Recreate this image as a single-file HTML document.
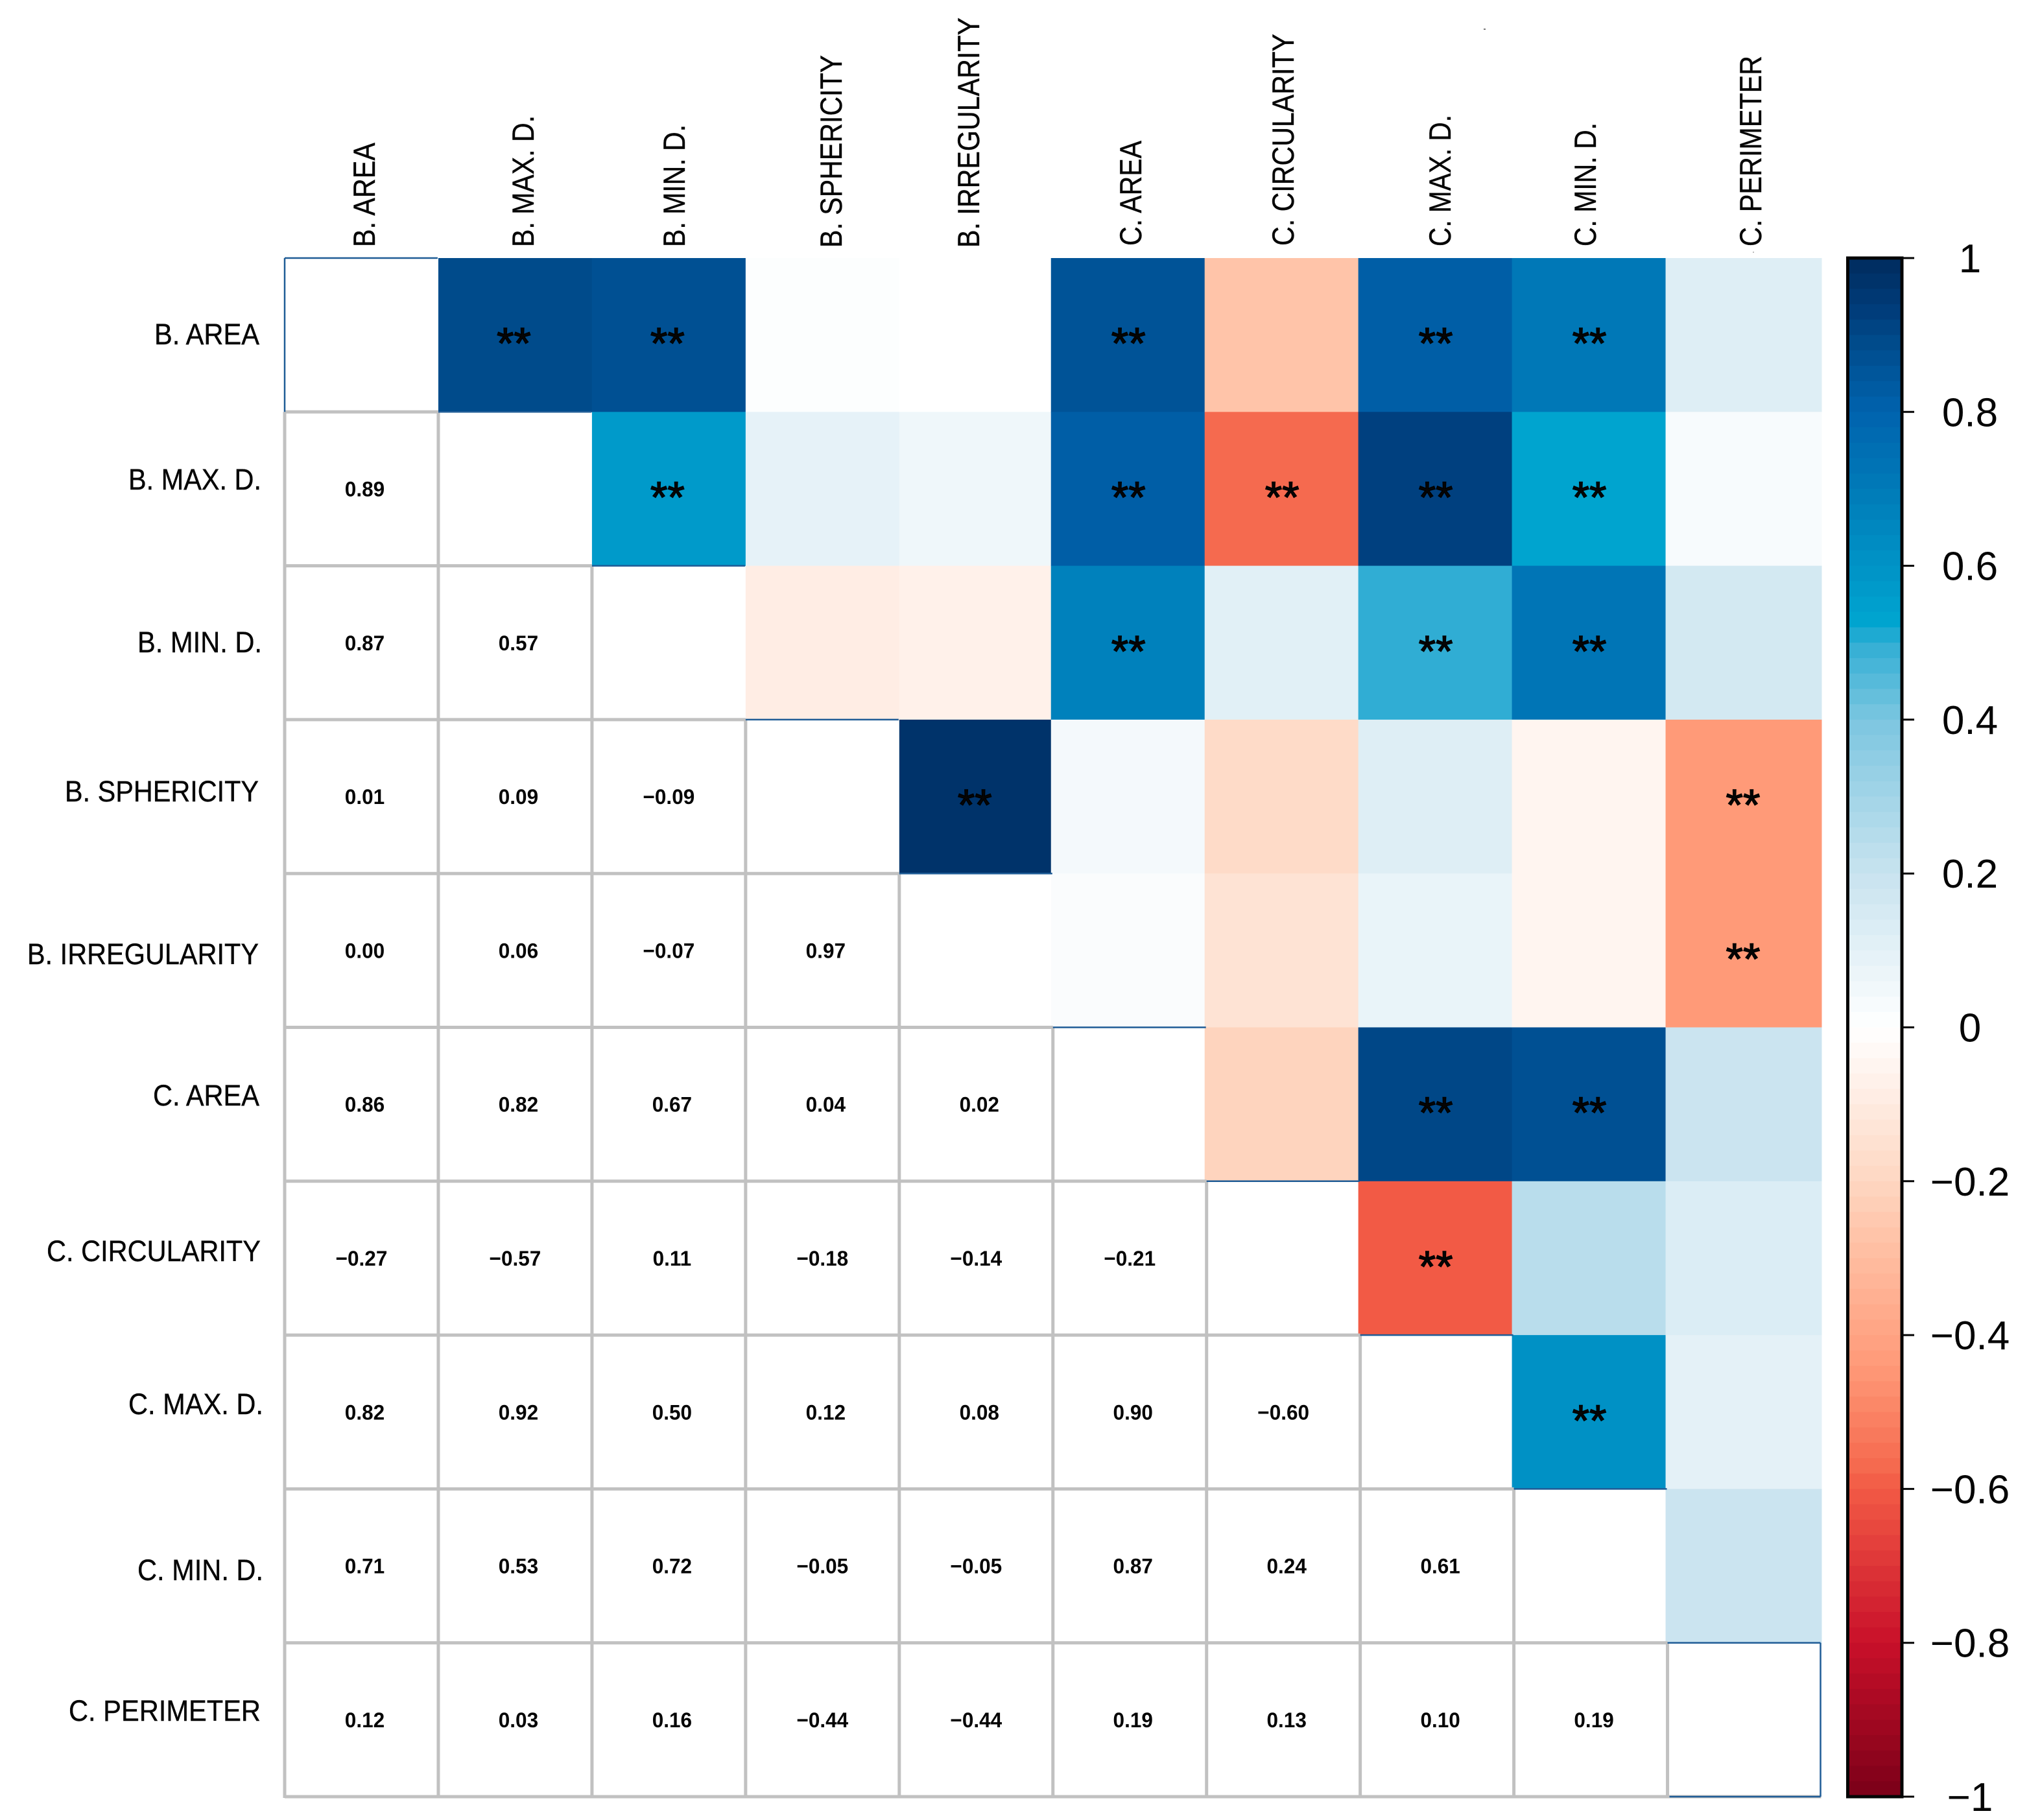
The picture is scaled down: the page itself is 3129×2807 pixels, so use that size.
<!DOCTYPE html>
<html>
<head>
<meta charset="utf-8">
<title>Correlation matrix</title>
<style>
html,body{margin:0;padding:0;background:#fff;}
svg{display:block;}
text{font-family:"Liberation Sans",Arial,sans-serif;fill:#050505;}
.lab text{stroke:#050505;stroke-width:0.4;}
</style>
</head>
<body>
<svg id="chart" xmlns="http://www.w3.org/2000/svg" width="3129" height="2807" viewBox="0 0 3129 2807">
  <rect x="0" y="0" width="3129" height="2807" fill="#ffffff"/>
  <g id="cells"></g>
  <g id="grid"></g>
  <g id="stars"></g>
  <g id="values"></g>

  <g class="lab" font-size="45">
    <text x="238" y="531" textLength="162" lengthAdjust="spacingAndGlyphs">B. AREA</text>
    <text x="198" y="755" textLength="205" lengthAdjust="spacingAndGlyphs">B. MAX. D.</text>
    <text x="212" y="1006" textLength="192" lengthAdjust="spacingAndGlyphs">B. MIN. D.</text>
    <text x="100" y="1236" textLength="299" lengthAdjust="spacingAndGlyphs">B. SPHERICITY</text>
    <text x="42" y="1487" textLength="357" lengthAdjust="spacingAndGlyphs">B. IRREGULARITY</text>
    <text x="236" y="1705" textLength="164" lengthAdjust="spacingAndGlyphs">C. AREA</text>
    <text x="72" y="1945" textLength="330" lengthAdjust="spacingAndGlyphs">C. CIRCULARITY</text>
    <text x="198" y="2181" textLength="208" lengthAdjust="spacingAndGlyphs">C. MAX. D.</text>
    <text x="212" y="2437" textLength="194" lengthAdjust="spacingAndGlyphs">C. MIN. D.</text>
    <text x="106" y="2654" textLength="296" lengthAdjust="spacingAndGlyphs">C. PERIMETER</text>
  </g>

  <g class="lab" font-size="47">
    <text transform="translate(578,381) rotate(-90)" textLength="161" lengthAdjust="spacingAndGlyphs">B. AREA</text>
    <text transform="translate(823,381) rotate(-90)" textLength="203" lengthAdjust="spacingAndGlyphs">B. MAX. D.</text>
    <text transform="translate(1056,381) rotate(-90)" textLength="189" lengthAdjust="spacingAndGlyphs">B. MIN. D.</text>
    <text transform="translate(1298,382) rotate(-90)" textLength="297" lengthAdjust="spacingAndGlyphs">B. SPHERICITY</text>
    <text transform="translate(1510,382) rotate(-90)" textLength="355" lengthAdjust="spacingAndGlyphs">B. IRREGULARITY</text>
    <text transform="translate(1760,379) rotate(-90)" textLength="162" lengthAdjust="spacingAndGlyphs">C. AREA</text>
    <text transform="translate(1995,379) rotate(-90)" textLength="327" lengthAdjust="spacingAndGlyphs">C. CIRCULARITY</text>
    <text transform="translate(2237,380) rotate(-90)" textLength="203" lengthAdjust="spacingAndGlyphs">C. MAX. D.</text>
    <text transform="translate(2461,380) rotate(-90)" textLength="191" lengthAdjust="spacingAndGlyphs">C. MIN. D.</text>
    <text transform="translate(2716,380) rotate(-90)" textLength="294" lengthAdjust="spacingAndGlyphs">C. PERIMETER</text>
  </g>

  <g id="colorbar"></g>
  <rect x="2288" y="44" width="3" height="2" fill="#777777"/>
  <rect x="2703" y="388" width="2" height="2" fill="#bbbbbb"/>
</svg>

<script>
// Lower-triangle correlation values, one array per row (variables in column order).
const rowBArea = [];
const rowBMaxD = [0.89];
const rowBMinD = [0.87, 0.57];
const rowBSphericity = [0.01, 0.09, -0.09];
const rowBIrregularity = [0.00, 0.06, -0.07, 0.97];
const rowCArea = [0.86, 0.82, 0.67, 0.04, 0.02];
const rowCCircularity = [-0.27, -0.57, 0.11, -0.18, -0.14, -0.21];
const rowCMaxD = [0.82, 0.92, 0.50, 0.12, 0.08, 0.90, -0.60];
const rowCMinD = [0.71, 0.53, 0.72, -0.05, -0.05, 0.87, 0.24, 0.61];
const rowCPerimeter = [0.12, 0.03, 0.16, -0.44, -0.44, 0.19, 0.13, 0.10, 0.19];
const correlationRows = [rowBArea, rowBMaxD, rowBMinD, rowBSphericity, rowBIrregularity, rowCArea, rowCCircularity, rowCMaxD, rowCMinD, rowCPerimeter];

// Significant pairs (row index, column index) marked ** in the upper triangle.
const significantPairs = [
  [0,1],[0,2],[0,5],[0,7],[0,8],
  [1,2],[1,5],[1,6],[1,7],[1,8],
  [2,5],[2,7],[2,8],
  [3,4],[3,9],
  [4,9],
  [5,7],[5,8],
  [6,7],
  [7,8]
];

const legendTicks = [1, 0.8, 0.6, 0.4, 0.2, 0, -0.2, -0.4, -0.6, -0.8, -1];

// Colour ramp: [value, r, g, b]
const colorRamp = [
  [-1, 122, 0, 24],
  [-0.8, 201, 16, 42],
  [-0.6, 242, 90, 69],
  [-0.57, 245, 106, 79],
  [-0.44, 255, 154, 120],
  [-0.27, 255, 196, 169],
  [-0.2, 254, 215, 194],
  [0, 255, 255, 255],
  [0.2, 200, 227, 239],
  [0.4, 124, 198, 224],
  [0.5, 48, 173, 212],
  [0.526, 0, 165, 208],
  [0.6, 0, 147, 198],
  [0.7, 0, 122, 184],
  [0.8, 0, 99, 174],
  [0.89, 0, 75, 139],
  [0.92, 0, 64, 127],
  [1, 0, 43, 94]
];

const NS = 'http://www.w3.org/2000/svg';
const gridLeft = 439, cellWidth = 236.95, gridTop = 398, cellHeight = 237.3, cellCount = 10;

function xAt(col) { return gridLeft + col * cellWidth; }
function yAt(row) { return gridTop + row * cellHeight; }
function legendY(v) { return 1584.5 - v * 1186.5; }
// The coloured columns on the right sit slightly left of their grid lines.
function cellLeft(col) { return xAt(col) - (col >= 5 ? 3 : 0); }
function cellRight(col) { return col === cellCount - 1 ? xAt(cellCount) + 1 : cellLeft(col + 1) + 0.5; }

function colorOf(v) {
  let i = 0;
  while (i < colorRamp.length - 2 && v > colorRamp[i + 1][0]) i++;
  const a = colorRamp[i], b = colorRamp[i + 1];
  const t = Math.max(0, Math.min(1, (v - a[0]) / (b[0] - a[0])));
  const c = [1, 2, 3].map(k => Math.round(a[k] + (b[k] - a[k]) * t));
  return 'rgb(' + c.join(',') + ')';
}

function make(tag, attrs) {
  const el = document.createElementNS(NS, tag);
  for (const k in attrs) el.setAttribute(k, attrs[k]);
  return el;
}

function fmt(v, digits) {
  const s = Math.abs(v).toFixed(digits);
  return v < 0 ? '\u2212' + s : s;
}

const cellsG = document.getElementById('cells');
const gridG = document.getElementById('grid');
const starsG = document.getElementById('stars');
const valuesG = document.getElementById('values');
const barG = document.getElementById('colorbar');
const GRAY = '#c1c1c1', NAVY = '#1f5c96';

function gridLine(x1, y1, x2, y2, color, w) {
  const ln = make('line', {x1: x1, y1: y1, x2: x2, y2: y2, stroke: color, 'stroke-width': w});
  
  
  gridG.appendChild(ln);
}

// Upper-triangle coloured cells, mirrored from the lower-triangle values
correlationRows.forEach((vals, r) => {
  vals.forEach((v, c) => {
    const cell = make('rect', {
      x: cellLeft(r), y: yAt(c), width: cellRight(r) - cellLeft(r), height: cellHeight + 0.5, fill: colorOf(v)
    });
    
    
    cellsG.appendChild(cell);
  });
});

// Grid lines over the lower triangle
for (let r = 0; r < cellCount; r++) {
  gridLine(xAt(0), yAt(r + 1), xAt(r + 1), yAt(r + 1), GRAY, 5);
  if (r > 0) gridLine(xAt(r), yAt(r), xAt(r), yAt(cellCount), GRAY, 5);
}
gridLine(xAt(0), yAt(1), xAt(0), yAt(cellCount) + 2, GRAY, 5);

// Diagonal cell edges
for (let d = 0; d < cellCount; d++) {
  gridLine(xAt(d), yAt(d), xAt(d + 1) - 1, yAt(d), NAVY, 2.5);
}
gridLine(xAt(0), yAt(0), xAt(0), yAt(1), NAVY, 2.5);
gridLine(xAt(cellCount) - 1, yAt(9), xAt(cellCount) - 1, yAt(cellCount), NAVY, 2.5);
gridLine(xAt(9) + 3, yAt(cellCount), xAt(cellCount) - 1, yAt(cellCount), NAVY, 2.5);

// Printed values
correlationRows.forEach((vals, r) => {
  vals.forEach((v, c) => {
    const cx = xAt(c) + cellWidth / 2 + (v < 0 ? 0 : 5);
    const cy = yAt(r) + cellHeight / 2 + 11.5;
    const t = make('text', {
      transform: 'translate(' + cx + ',' + cy + ') scale(0.97,1)',
      'text-anchor': 'middle', 'font-size': 32.5, 'font-weight': 'bold'
    });
    
    
    t.textContent = fmt(v, 2);
    valuesG.appendChild(t);
  });
});

// Stars
significantPairs.forEach(pair => {
  const t = make('text', {
    x: xAt(pair[1]) + cellWidth / 2 - 2,
    y: yAt(pair[0]) + cellHeight / 2 + 36,
    'text-anchor': 'middle', 'font-size': 68,
    stroke: '#000000', 'stroke-width': 1.4
  });
  
  
  t.textContent = '**';
  starsG.appendChild(t);
});

// Colour legend
const bandCount = 100;
for (let b = 0; b < bandCount; b++) {
  const hi = 1 - 2 * b / bandCount, lo = 1 - 2 * (b + 1) / bandCount;
  const band = make('rect', {
    x: 2849, y: legendY(hi), width: 84, height: legendY(lo) - legendY(hi) + 0.6,
    fill: colorOf((hi + lo) / 2)
  });
  
  
  barG.appendChild(band);
}
const frame = make('rect', {
  x: 2849.5, y: legendY(1), width: 83.5, height: legendY(-1) - legendY(1),
  fill: 'none', stroke: '#050505', 'stroke-width': 5
});


barG.appendChild(frame);

legendTicks.forEach(v => {
  const tick = make('line', {x1: 2934, x2: 2952, y1: legendY(v), y2: legendY(v), stroke: '#050505', 'stroke-width': 3});
  
  
  barG.appendChild(tick);
  const label = make('text', {x: 3038, y: legendY(v) + 22, 'text-anchor': 'middle', 'font-size': 62});
  
  
  label.textContent = fmt(v, (v === 0 || Math.abs(v) === 1) ? 0 : 1);
  barG.appendChild(label);
});
</script>
</body>
</html>
